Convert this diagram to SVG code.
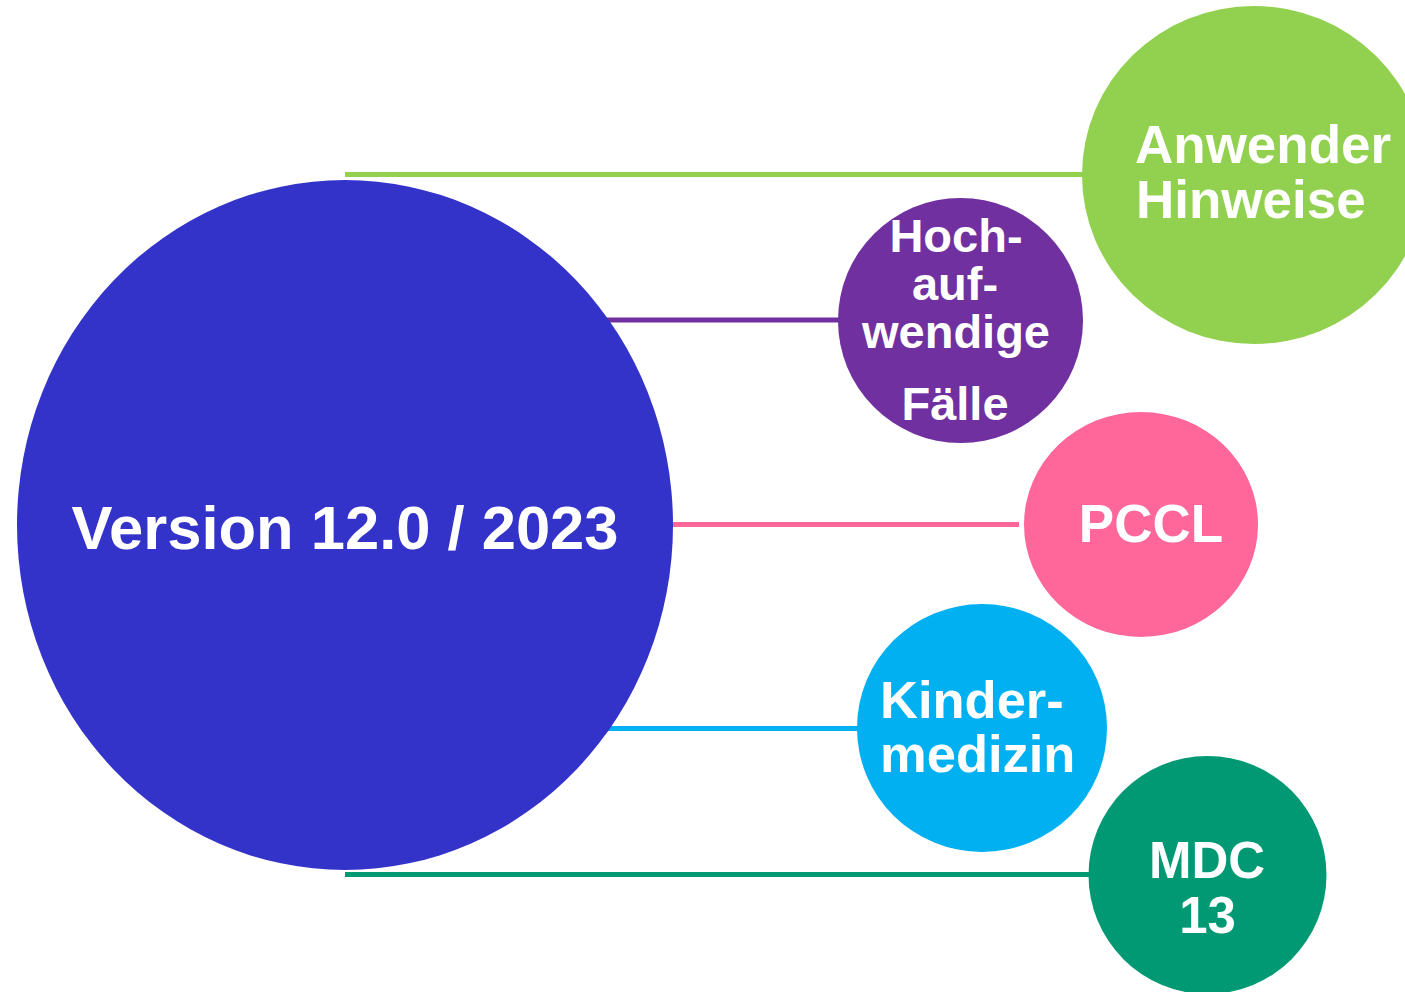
<svg xmlns="http://www.w3.org/2000/svg" width="1405" height="992" viewBox="0 0 1405 992">
<style>
  .lbl { font-family: "Liberation Sans", Arial, sans-serif; font-weight: bold; fill: #ffffff; }
  .c { text-anchor: middle; }
  .conn { stroke-width: 5; fill: none; }
</style>
<rect width="1405" height="992" fill="#ffffff"/>
<g id="connectors">
  <line class="conn" x1="345" y1="174.5" x2="1090" y2="174.5" stroke="#92D050"/>
  <line class="conn" x1="345" y1="320" x2="845" y2="320" stroke="#7030A0"/>
  <line class="conn" x1="345" y1="524.5" x2="1019" y2="524.5" stroke="#FF6699"/>
  <line class="conn" x1="345" y1="728.5" x2="865" y2="728.5" stroke="#00B0F0"/>
  <line class="conn" x1="345" y1="874.5" x2="1095" y2="874.5" stroke="#009973"/>
</g>
<g id="node-version">
  <ellipse cx="345" cy="525" rx="328" ry="345" fill="#3333C9"/>
  <text class="lbl c" x="345" y="549" font-size="61.5">Version 12.0 / 2023</text>
</g>
<g id="node-anwender">
  <ellipse cx="1254" cy="175" rx="172" ry="169" fill="#92D050"/>
  <text class="lbl" x="1135" y="163" font-size="53">Anwender</text>
  <text class="lbl" x="1136" y="218" font-size="53">Hinweise</text>
</g>
<g id="node-hochaufwendig">
  <circle cx="960.5" cy="320.5" r="122.5" fill="#7030A0"/>
  <text class="lbl c" x="956" y="252" font-size="47">Hoch-</text>
  <text class="lbl c" x="955" y="300" font-size="47">auf-</text>
  <text class="lbl c" x="956" y="348" font-size="47">wendige</text>
  <text class="lbl c" x="955" y="420" font-size="47">Fälle</text>
</g>
<g id="node-pccl">
  <ellipse cx="1141" cy="524.5" rx="117" ry="112.5" fill="#FF6699"/>
  <text class="lbl c" x="1151" y="542" font-size="53">PCCL</text>
</g>
<g id="node-kindermedizin">
  <ellipse cx="982" cy="728" rx="125" ry="124" fill="#00B0F0"/>
  <text class="lbl" x="880" y="718" font-size="52.5">Kinder-</text>
  <text class="lbl" x="880" y="772" font-size="52.5">medizin</text>
</g>
<g id="node-mdc13">
  <circle cx="1207.5" cy="875" r="119" fill="#009973"/>
  <text class="lbl c" x="1207" y="878" font-size="51">MDC</text>
  <text class="lbl c" x="1207.5" y="933" font-size="51">13</text>
</g>
</svg>
